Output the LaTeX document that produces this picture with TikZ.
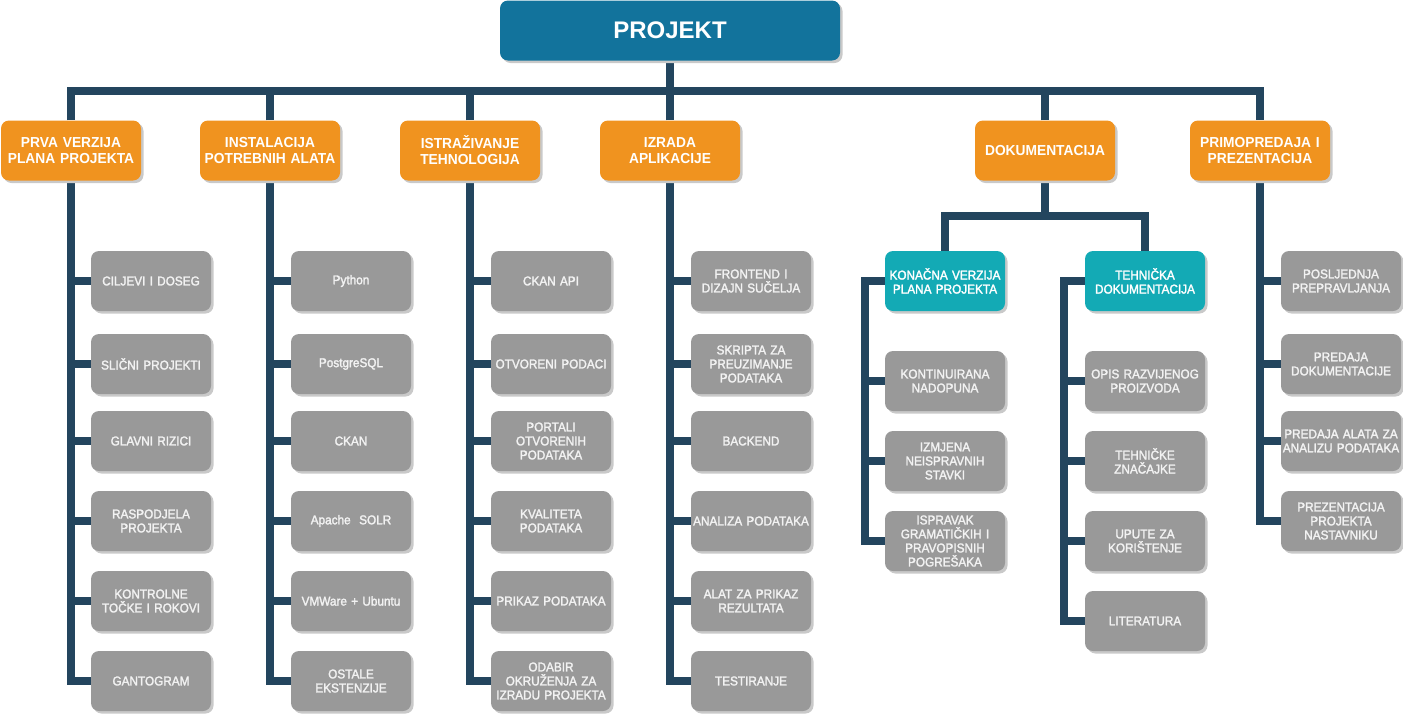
\documentclass[tikz,border=0pt]{standalone}
\usepackage{fontspec}
\setmainfont{Liberation Sans}
\newfontfamily\boxfont{Liberation Sans}[FakeStretch=0.95]
\newfontfamily\rootfont{Liberation Sans}
\newfontfamily\leaffont{Liberation Sans}[FakeStretch=0.92, FakeBold=2]
\usetikzlibrary{shadows}
\definecolor{navy}{HTML}{23455E}
\definecolor{orng}{HTML}{F0931F}
\definecolor{tealb}{HTML}{13AAB5}
\definecolor{grayb}{HTML}{999999}
\definecolor{rootb}{HTML}{12739C}
\definecolor{shd}{HTML}{C9C9C9}
\pgfdeclarelayer{bg}
\pgfsetlayers{bg,main}
\begin{document}
\begin{tikzpicture}[x=1pt,y=-1pt,
  boxbase/.style={rounded corners=8pt, minimum height=60pt, align=center, inner sep=0pt,
    general shadow={fill=shd, shadow xshift=2.5pt, shadow yshift=-2.5pt}},
  rootbox/.style={boxbase, fill=rootb, minimum width=340pt, text=white,
    font=\rootfont\bfseries\fontsize{24}{28}\selectfont},
  topbox/.style={boxbase, fill=orng, minimum width=140pt, text width=138pt, text=white,
    font=\boxfont\bfseries\fontsize{14.5}{16}\selectfont},
  subbox/.style={boxbase, fill=tealb, minimum width=120pt, text width=119pt, text=white,
    font=\leaffont\fontsize{12.8}{14}\selectfont},
  leaf/.style={boxbase, fill=grayb, minimum width=120pt, text width=119pt, text=white!95!black,
    font=\leaffont\fontsize{12.8}{14}\selectfont},
  conn/.style={draw=navy, line width=8pt}]
\useasboundingbox (0,0) rectangle (1403,715);

% root
\node[rootbox] (root) at (670,30.5) {PROJEKT};

% top level
\node[topbox] (prva) at (71,150.5) {PRVA VERZIJA\\PLANA PROJEKTA};
\node[topbox] (inst) at (270,150.5) {INSTALACIJA\\POTREBNIH ALATA};
\node[topbox] (istr) at (470,150.5) {ISTRAŽIVANJE\\TEHNOLOGIJA};
\node[topbox] (izra) at (670,150.5) {IZRADA\\APLIKACIJE};
\node[topbox] (doku) at (1045,150.5) {DOKUMENTACIJA};
\node[topbox] (prim) at (1260,150.5) {PRIMOPREDAJA I\\PREZENTACIJA};

% column 1
\node[leaf] (a1) at (151,281) {CILJEVI I DOSEG};
\node[leaf] (a2) at (151,364) {SLIČNI PROJEKTI};
\node[leaf] (a3) at (151,441) {GLAVNI RIZICI};
\node[leaf] (a4) at (151,521) {RASPODJELA\\PROJEKTA};
\node[leaf] (a5) at (151,601) {KONTROLNE\\TOČKE I ROKOVI};
\node[leaf] (a6) at (151,681) {GANTOGRAM};

% column 2
\node[leaf] (b1) at (351,281) {Python};
\node[leaf] (b2) at (351,364) {PostgreSQL};
\node[leaf] (b3) at (351,441) {CKAN};
\node[leaf] (b4) at (351,521) {Apache\ \ SOLR};
\node[leaf] (b5) at (351,601) {VMWare + Ubuntu};
\node[leaf] (b6) at (351,681) {OSTALE\\EKSTENZIJE};

% column 3
\node[leaf] (c1) at (551,281) {CKAN API};
\node[leaf] (c2) at (551,364) {OTVORENI PODACI};
\node[leaf] (c3) at (551,441) {PORTALI\\OTVORENIH\\PODATAKA};
\node[leaf] (c4) at (551,521) {KVALITETA\\PODATAKA};
\node[leaf] (c5) at (551,601) {PRIKAZ PODATAKA};
\node[leaf] (c6) at (551,681) {ODABIR\\OKRUŽENJA ZA\\IZRADU PROJEKTA};

% column 4
\node[leaf] (d1) at (751,281) {FRONTEND I\\DIZAJN SUČELJA};
\node[leaf] (d2) at (751,364) {SKRIPTA ZA\\PREUZIMANJE\\PODATAKA};
\node[leaf] (d3) at (751,441) {BACKEND};
\node[leaf] (d4) at (751,521) {ANALIZA PODATAKA};
\node[leaf] (d5) at (751,601) {ALAT ZA PRIKAZ\\REZULTATA};
\node[leaf] (d6) at (751,681) {TESTIRANJE};

% documentation
\node[subbox] (kona) at (945,281) {KONAČNA VERZIJA\\PLANA PROJEKTA};
\node[subbox] (tehn) at (1145,281) {TEHNIČKA\\DOKUMENTACIJA};
\node[leaf] (k1) at (945,381) {KONTINUIRANA\\NADOPUNA};
\node[leaf] (k2) at (945,461) {IZMJENA\\NEISPRAVNIH\\STAVKI};
\node[leaf] (k3) at (945,541) {ISPRAVAK\\GRAMATIČKIH I\\PRAVOPISNIH\\POGREŠAKA};
\node[leaf] (t1) at (1145,381) {OPIS RAZVIJENOG\\PROIZVODA};
\node[leaf] (t2) at (1145,461) {TEHNIČKE\\ZNAČAJKE};
\node[leaf] (t3) at (1145,541) {UPUTE ZA\\KORIŠTENJE};
\node[leaf] (t4) at (1145,621) {LITERATURA};

% handover
\node[leaf] (p1) at (1341,281) {POSLJEDNJA\\PREPRAVLJANJA};
\node[leaf] (p2) at (1341,364) {PREDAJA\\DOKUMENTACIJE};
\node[leaf] (p3) at (1341,441) {PREDAJA ALATA ZA\\ANALIZU PODATAKA};
\node[leaf] (p4) at (1341,521) {PREZENTACIJA\\PROJEKTA\\NASTAVNIKU};

\coordinate (busy) at (0,91);
\coordinate (suby) at (0,216);

\begin{pgfonlayer}{bg}
  \draw[conn] (root.south) -- (root.south |- busy);
  \draw[conn] (prva.north) |- (prim.north |- busy) -- (prim.north);
  \foreach \n in {inst,istr,izra,doku} \draw[conn] (\n.north) -- (\n.north |- busy);
  % columns
  \draw[conn] (prva.south) |- (a6.west);
  \foreach \n in {a1,a2,a3,a4,a5} \draw[conn] (\n.west) -- (\n.west -| prva.south);
  \draw[conn] (inst.south) |- (b6.west);
  \foreach \n in {b1,b2,b3,b4,b5} \draw[conn] (\n.west) -- (\n.west -| inst.south);
  \draw[conn] (istr.south) |- (c6.west);
  \foreach \n in {c1,c2,c3,c4,c5} \draw[conn] (\n.west) -- (\n.west -| istr.south);
  \draw[conn] (izra.south) |- (d6.west);
  \foreach \n in {d1,d2,d3,d4,d5} \draw[conn] (\n.west) -- (\n.west -| izra.south);
  \draw[conn] (prim.south) |- (p4.west);
  \foreach \n in {p1,p2,p3} \draw[conn] (\n.west) -- (\n.west -| prim.south);
  % documentation
  \draw[conn] (doku.south) -- (doku.south |- suby);
  \draw[conn] (kona.north) |- (tehn.north |- suby) -- (tehn.north);
  \draw[conn] (kona.west) -- ++(-20,0) |- (k3.west);
  \foreach \n in {k1,k2} \draw[conn] (\n.west) -- ++(-20,0);
  \draw[conn] (tehn.west) -- ++(-21,0) |- (t4.west);
  \foreach \n in {t1,t2,t3} \draw[conn] (\n.west) -- ++(-21,0);
\end{pgfonlayer}
\end{tikzpicture}
\end{document}
